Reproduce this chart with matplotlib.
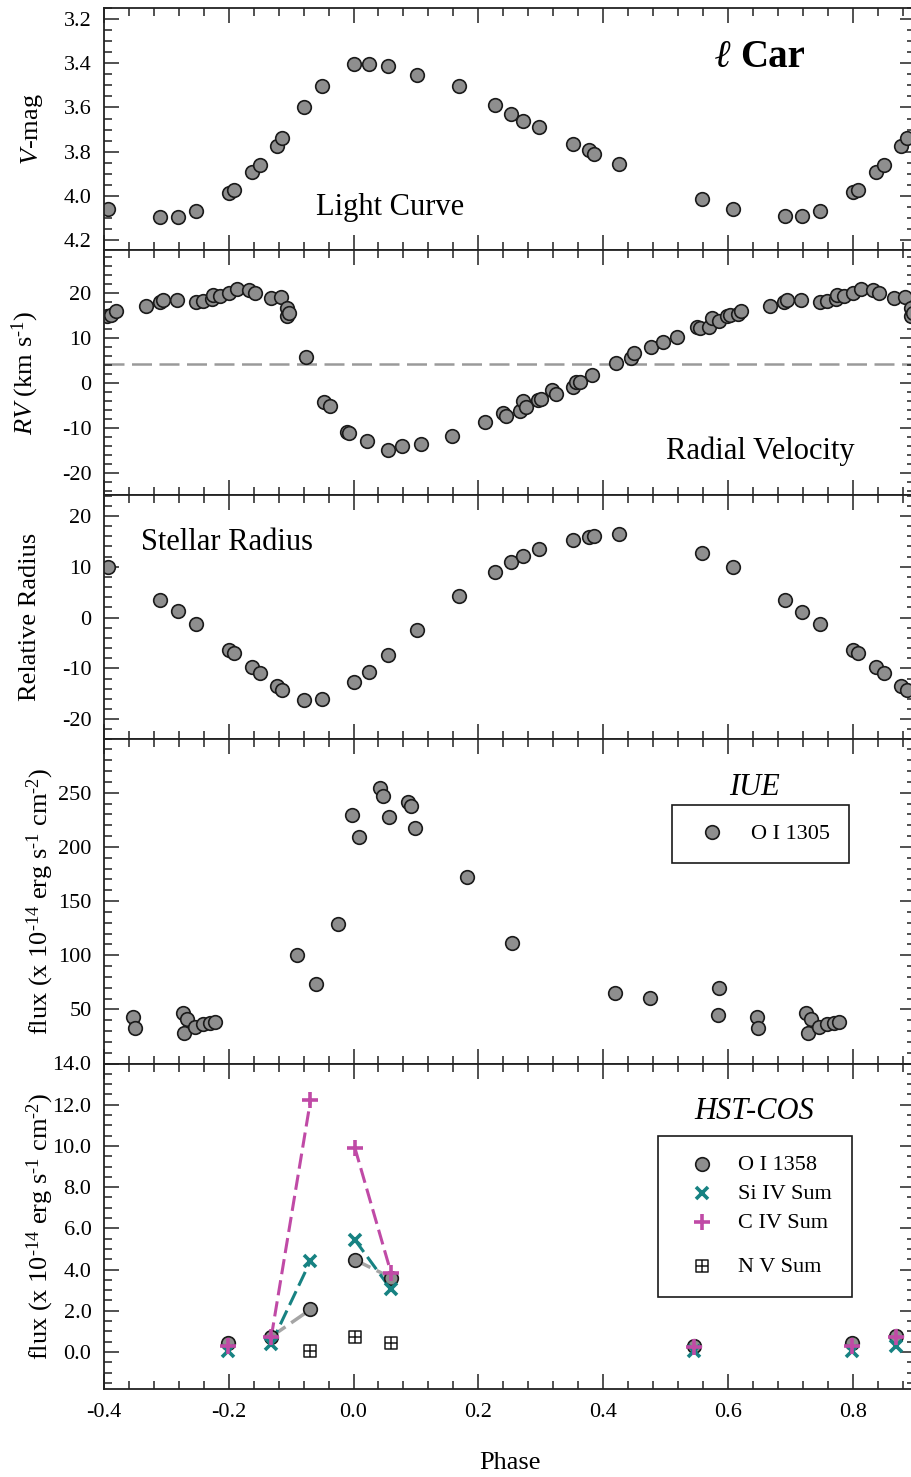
import numpy as np
import matplotlib
matplotlib.use("Agg")
import matplotlib.pyplot as plt
from matplotlib.ticker import MultipleLocator, FixedLocator, FormatStrFormatter
from matplotlib.path import Path
from matplotlib.offsetbox import DrawingArea

plt.rcParams['font.family'] = ['Liberation Serif', 'DejaVu Serif']
plt.rcParams['mathtext.fontset'] = 'custom'
plt.rcParams['mathtext.rm'] = 'Liberation Serif'
plt.rcParams['mathtext.it'] = 'Liberation Serif:italic'
plt.rcParams['mathtext.bf'] = 'Liberation Serif:bold'
plt.rcParams['axes.unicode_minus'] = False

# light curve (V mag) and stellar radius share the same phases
v_phase = [-0.394, -0.310, -0.282, -0.253, -0.199, -0.192, -0.162, -0.150, -0.122, -0.114,
           -0.080, -0.051, 0.001, 0.025, 0.056, 0.101, 0.169, 0.226, 0.253, 0.271,
           0.297, 0.352, 0.378, 0.385, 0.426, 0.559, 0.608, 0.691, 0.719, 0.747,
           0.801, 0.808, 0.838, 0.850, 0.878, 0.887]
v_mag = [4.06, 4.094, 4.094, 4.07, 3.986, 3.974, 3.894, 3.861, 3.773, 3.740,
         3.597, 3.502, 3.405, 3.405, 3.413, 3.452, 3.502, 3.591, 3.628, 3.661,
         3.687, 3.767, 3.794, 3.811, 3.856, 4.014, 4.06, 4.093, 4.093, 4.07,
         3.984, 3.974, 3.894, 3.861, 3.773, 3.740]
radius = [10.0, 3.5, 1.2, -1.2, -6.3, -6.9, -9.8, -10.9, -13.5, -14.3,
          -16.3, -16.1, -12.7, -10.7, -7.3, -2.5, 4.3, 9.0, 11.0, 12.1,
          13.4, 15.3, 15.9, 16.1, 16.4, 12.6, 9.9, 3.4, 1.1, -1.2,
          -6.3, -6.9, -9.8, -10.9, -13.5, -14.3]

# radial velocity
rv_phase = [-0.395, -0.388, -0.381, -0.333, -0.310, -0.305, -0.283, -0.253, -0.241, -0.227,
            -0.225, -0.214, -0.200, -0.187, -0.167, -0.158, -0.133, -0.116, -0.107, -0.106,
            -0.103, -0.077, -0.048, -0.038, -0.011, -0.007, 0.022, 0.055, 0.077, 0.108,
            0.158, 0.211, 0.240, 0.244, 0.267, 0.271, 0.276, 0.295, 0.300, 0.318,
            0.324, 0.351, 0.357, 0.363, 0.383, 0.421, 0.444, 0.449, 0.477, 0.496,
            0.518, 0.551, 0.556, 0.570, 0.574, 0.586, 0.599, 0.604, 0.616, 0.621,
            0.667, 0.690, 0.695, 0.717, 0.747, 0.759, 0.773, 0.775, 0.786, 0.800,
            0.813, 0.833, 0.842, 0.867, 0.884, 0.893, 0.894, 0.897]
rv = [14.9, 15.1, 16.0, 17.2, 18.0, 18.6, 18.6, 18.0, 18.3, 18.8,
      19.5, 19.3, 20.0, 20.9, 20.8, 20.0, 18.9, 19.1, 16.7, 14.9,
      15.6, 5.9, -4.2, -5.1, -10.8, -11.0, -12.8, -14.8, -14.0, -13.5,
      -11.7, -8.7, -6.7, -7.3, -6.2, -4.0, -5.3, -3.8, -3.4, -1.4,
      -2.3, -0.9, 0.2, 0.4, 1.9, 4.6, 5.7, 6.7, 8.1, 9.2,
      10.3, 12.6, 12.3, 12.5, 14.5, 13.8, 14.9, 15.1, 15.3, 16.0,
      17.2, 18.0, 18.6, 18.6, 18.0, 18.3, 18.8, 19.5, 19.3, 20.0,
      20.9, 20.8, 20.0, 18.9, 19.1, 16.7, 14.9, 15.6]
gamma_vel = 4.3

# IUE O I 1305 flux
iue_phase = [-0.354, -0.351, -0.274, -0.267, -0.271, -0.254, -0.241, -0.230, -0.222, -0.090,
             -0.060, -0.025, -0.003, 0.008, 0.042, 0.048, 0.057, 0.087, 0.092, 0.098,
             0.182, 0.254, 0.419, 0.475, 0.585, 0.586, 0.646, 0.649, 0.726, 0.733,
             0.729, 0.746, 0.759, 0.770, 0.778]
iue_flux = [43.2, 33.2, 46.9, 40.9, 28.6, 34.1, 36.5, 37.2, 38.1, 100.3,
            73.4, 128.4, 229.8, 208.8, 254.6, 246.9, 227.1, 241.4, 237.8, 217.6,
            172.1, 111.0, 65.2, 60.6, 44.4, 69.7, 43.2, 33.2, 46.9, 40.9,
            28.6, 34.1, 36.5, 37.2, 38.1]

# HST-COS fluxes
hst_phase = [-0.201, -0.132, -0.069, 0.002, 0.060, 0.545, 0.799, 0.869]
oi_1358 = [0.44, 0.74, 2.06, 4.47, 3.61, 0.28, 0.44, 0.76]
siiv_sum = [0.03, 0.40, 4.42, 5.45, 3.04, 0.03, 0.03, 0.29]
civ_sum = [0.29, 0.70, 12.21, 9.92, 3.85, 0.24, 0.29, 0.70]
nv_phase = [-0.069, 0.002, 0.060]
nv_sum = [0.05, 0.70, 0.41]
joined = [(1, 2), (3, 4)]

GREY = '#8e8e8e'
TEAL = '#178282'
MAGENTA = '#c04aa6'
FLUX_LABEL = r'flux (x 10$^{\text{-}14}$ erg s$^{\text{-}1}$ cm$^{\text{-}2}$)'

W, H = 912, 1477
fig = plt.figure(figsize=(W / 100, H / 100), dpi=100)


def panel(top, bottom):
    left, right = 104, 915
    return fig.add_axes([left / W, 1 - bottom / H, (right - left) / W, (bottom - top) / H])


def style(ax, ymin_step):
    ax.set_xlim(-0.4, 0.9)
    ax.xaxis.set_major_locator(MultipleLocator(0.2))
    ax.xaxis.set_minor_locator(MultipleLocator(0.04))
    ax.yaxis.set_minor_locator(MultipleLocator(ymin_step))
    ax.tick_params(which='both', direction='in', top=True, right=True,
                   width=1.1, color='#222222', labelsize=16, labelbottom=False)
    ax.tick_params(which='major', length=11, pad=9)
    ax.tick_params(which='minor', length=5.5)
    for s in ax.spines.values():
        s.set_linewidth(1.3)
        s.set_color('#222222')


def ylab(ax, text, xc):
    ax.set_ylabel(text, fontsize=19)
    ax.yaxis.label.set_va('center')
    ax.yaxis.set_label_coords((xc - 104) / 811, 0.5)


circ = dict(marker='o', ls='none', ms=9.8, mfc=GREY, mec='#1a1a1a', mew=1.2)

# ---- light curve
ax1 = panel(8, 250)
ax1.plot(v_phase, v_mag, **circ)
ax1.set_ylim(4.245, 3.15)
ax1.yaxis.set_major_locator(MultipleLocator(0.2))
ax1.yaxis.set_major_formatter(FormatStrFormatter('%.1f'))
style(ax1, 0.05)
ylab(ax1, '$V$-mag', 31.7)
ax1.text(0.058, 4.087, 'Light Curve', fontsize=22, ha='center', va='baseline')
ax1.text(0.593, 3.416, 'ℓ', fontsize=28, fontweight='bold', style='italic',
         ha='center', va='baseline')
ax1.text(0.62, 3.416, 'Car', fontsize=28, fontweight='bold', ha='left', va='baseline')

# ---- radial velocity
ax2 = panel(250, 495)
ax2.axhline(gamma_vel, color='#9a9a9a', lw=1.8, dashes=(8, 3), zorder=1)
ax2.plot(rv_phase, rv, **circ)
ax2.set_ylim(-24.8, 29.6)
ax2.yaxis.set_major_locator(MultipleLocator(10))
style(ax2, 2)
ylab(ax2, r'$RV$ (km s$^{\text{-}1}$)', 25)
ax2.text(0.652, -16.7, 'Radial Velocity', fontsize=22, ha='center', va='baseline')

# ---- stellar radius
ax3 = panel(495, 738.5)
ax3.plot(v_phase, radius, **circ)
ax3.set_ylim(-23.8, 24.1)
ax3.yaxis.set_major_locator(MultipleLocator(10))
style(ax3, 2)
ylab(ax3, 'Relative Radius', 30.5)
ax3.text(-0.203, 13.2, 'Stellar Radius', fontsize=22, ha='center', va='baseline')

# ---- IUE
ax4 = panel(738.5, 1063.5)
ax4.plot(iue_phase, iue_flux, label='O I 1305', **circ)
ax4.set_ylim(0, 300)
ax4.yaxis.set_major_locator(FixedLocator([50, 100, 150, 200, 250]))
style(ax4, 10)
ylab(ax4, FLUX_LABEL, 40)
ax4.text(0.643, 248, 'IUE', fontsize=22, style='italic', ha='center', va='baseline')
leg4 = ax4.legend(loc='upper left', bbox_to_anchor=((672 - 104) / 811, (1063.5 - 805) / 325),
                  fontsize=16, fancybox=False, edgecolor='#1a1a1a', framealpha=1,
                  borderpad=0.85, handlelength=1.9, handletextpad=0.8, borderaxespad=0)
leg4.get_frame().set_linewidth(1.2)

# ---- HST-COS
ax5 = panel(1063.5, 1389)
for i, j in joined:
    seg = [i, j]
    ax5.plot([hst_phase[k] for k in seg], [oi_1358[k] for k in seg],
             color='#a5a5a5', lw=2.5, dashes=(5, 2), zorder=2)
    ax5.plot([hst_phase[k] for k in seg], [siiv_sum[k] for k in seg],
             color=TEAL, lw=2.2, dashes=(5, 2), zorder=2)
    ax5.plot([hst_phase[k] for k in seg], [civ_sum[k] for k in seg],
             color=MAGENTA, lw=2.2, dashes=(5, 2), zorder=2)

box_plus = Path([(-1, -1), (1, -1), (1, 1), (-1, 1), (-1, -1), (0, -1), (0, 1), (-1, 0), (1, 0)],
                [Path.MOVETO, Path.LINETO, Path.LINETO, Path.LINETO, Path.CLOSEPOLY,
                 Path.MOVETO, Path.LINETO, Path.MOVETO, Path.LINETO])

h_oi, = ax5.plot(hst_phase, oi_1358, zorder=3, **circ)
h_si, = ax5.plot(hst_phase, siiv_sum, marker='x', ls='none', ms=9, mew=2.6, color=TEAL, zorder=4)
h_c, = ax5.plot(hst_phase, civ_sum, marker='+', ls='none', ms=11, mew=2.6, color=MAGENTA, zorder=5)
h_nv, = ax5.plot(nv_phase, nv_sum, marker=box_plus, ls='none', ms=9, mew=1.1,
                 mfc='none', mec='#1a1a1a', zorder=3)
ax5.set_ylim(-1.8, 14)
ax5.yaxis.set_major_locator(MultipleLocator(2))
ax5.yaxis.set_major_formatter(FormatStrFormatter('%.1f'))
style(ax5, 0.5)
ax5.tick_params(which='both', labelbottom=True)
ax5.tick_params(axis='x', which='major', pad=10)
ax5.xaxis.set_major_formatter(FormatStrFormatter('%.1f'))
ax5.set_xlabel('Phase', fontsize=19, labelpad=22)
ylab(ax5, FLUX_LABEL, 40)
ax5.text(0.642, 11.3, 'HST-COS', fontsize=22, style='italic', ha='center', va='baseline')
leg5 = ax5.legend([h_oi, h_si, h_c, h_nv],
                  ['O I 1358', 'Si IV Sum', 'C IV Sum', 'N V Sum'],
                  loc='upper left', bbox_to_anchor=((658 - 104) / 811, (1389 - 1136) / 325.5),
                  fontsize=16, fancybox=False, edgecolor='#1a1a1a', framealpha=1,
                  borderpad=0.9, handlelength=2.2, handletextpad=0.5, labelspacing=0.45,
                  handleheight=0.2, borderaxespad=0)
leg5.get_frame().set_linewidth(1.2)
# extra gap above the N V entry
rows = leg5._legend_handle_box.get_children()[0].get_children()
rows.insert(3, DrawingArea(1, 3.6))

fig.savefig('out.png', dpi=100)
